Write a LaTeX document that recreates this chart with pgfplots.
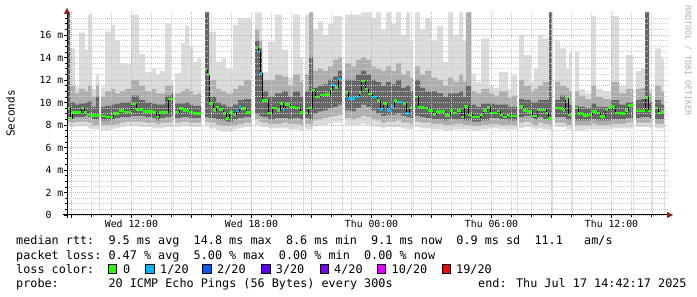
\documentclass[border=0pt]{standalone}
\usepackage{pgfplots}
\pgfplotsset{compat=1.18}
\usepackage{pgfplotstable}
\usepackage{fontspec}
\newfontfamily\mono{DejaVu Sans Mono}
\newcommand\legfont{\mono\fontsize{11.8bp}{14bp}\selectfont}
\newcommand\tickfont{\mono\fontsize{9.8bp}{11bp}\selectfont}
\definecolor{sm1}{HTML}{DCDCDC}
\definecolor{sm2}{HTML}{AEAEAE}
\definecolor{sm3}{HTML}{666666}
\definecolor{mgrid}{HTML}{E6A4A4}
\definecolor{ngrid}{HTML}{CCCCCC}
\definecolor{l0}{HTML}{26FF00}
\definecolor{l1}{HTML}{00B8FF}
\definecolor{l2}{HTML}{0059FF}
\definecolor{l3}{HTML}{5E00FF}
\definecolor{l4}{HTML}{7E00FF}
\definecolor{l10}{HTML}{DD00FF}
\definecolor{l19}{HTML}{FF0000}
\definecolor{arrowred}{HTML}{8B1A1A}
\definecolor{wm}{HTML}{B0B0B0}

% smoke: x (start of interval, px), t1 light top, t2 mid top, t3 dark top, b3 dark bottom, b2 mid bottom, b1 light bottom (ms)
\pgfplotstableread{
x t1 t2 t3 b3 b2 b1
67 18 18 18 8.7 8.3 7.9
70 14.8 11.5 10.0 8.6 8.2 7.8
75 11.4 10.8 9.8 8.7 8.3 7.9
79 16.2 11.2 9.9 8.7 8.3 7.9
85 14.7 11.0 10.0 8.8 8.3 7.9
88 17.8 11.5 10.1 8.7 8.2 7.7
92 11.2 10.5 9.6 8.5 8.0 7.6
96 12.4 11.5 10.5 8.5 8.0 7.6
99 0 0 0 0 0 0
101 11.4 10.5 9.6 8.4 8.0 7.5
105 16.3 11.0 9.7 8.4 8.0 7.5
111 16.9 11.2 9.8 8.5 8.0 7.6
115 15.5 10.8 9.9 8.6 8.1 7.7
120 13.5 11.0 10.0 8.7 8.2 7.8
125 13.4 11.2 10.0 8.7 8.3 7.9
131 17.8 12.0 10.6 8.8 8.3 7.9
139 14.3 11.5 10.2 8.8 8.3 7.8
145 12.7 11.0 10.0 8.7 8.2 7.8
152 13.0 11.2 9.9 8.6 8.2 7.7
156 12.5 10.8 9.8 8.4 8.1 7.7
160 12.8 10.8 9.8 8.6 8.2 7.7
165 17.0 11.5 10.6 8.7 8.2 7.8
171 12.0 11.5 10.8 8.8 8.3 7.8
173 0 0 0 0 0 0
175 12.6 10.8 9.9 8.6 8.2 7.8
181 15.3 11.0 9.9 8.7 8.3 7.9
185 16.8 11.2 10.0 8.7 8.3 7.9
189 15.0 11.0 9.8 8.6 8.2 7.8
193 13.6 10.7 9.7 8.6 8.2 7.8
197 13.9 10.8 9.7 8.6 8.2 7.8
201 0 0 0 0 0 0
205 18 18 18 8.7 8.3 7.9
209 16.3 12.0 10.5 8.6 8.2 7.7
216 13.6 11.2 10.0 8.5 8.0 7.5
221 13.9 11.0 9.8 8.4 7.9 7.4
226 13.0 10.8 9.6 8.3 7.9 7.4
233 16.9 11.2 9.8 8.5 8.0 7.6
238 17.5 11.5 10.2 8.6 8.1 7.7
244 17.5 12.0 10.3 8.7 8.2 7.8
251 0 0 0 0 0 0
255 18 16.5 15.5 9.0 8.5 8.0
259 18 15.5 14.8 8.8 8.3 7.9
262 12.7 12.0 11.0 8.7 8.2 7.8
268 15.4 12.0 10.5 8.5 8.1 7.7
275 17.8 12.5 10.8 8.6 8.1 7.7
282 14.7 12.3 11.0 8.6 8.2 7.7
288 12.2 11.5 10.5 8.5 8.1 7.6
293 17.8 12.5 11.0 8.6 8.1 7.6
300 14.0 11.8 10.5 8.5 8.0 7.5
303 0 0 0 0 0 0
305 17.8 12.5 11.0 8.6 8.1 7.6
309 18 18 14.0 8.5 8.1 7.6
313 16.5 12.8 11.3 9.0 8.4 7.9
318 17.2 13.0 11.5 9.2 8.5 8.0
323 16.0 12.8 11.6 9.3 8.6 8.0
328 17.0 13.2 12.0 9.5 8.7 8.1
333 17.7 13.8 12.3 9.6 8.8 8.2
338 17.7 14.0 12.8 9.8 8.9 8.2
342 0 0 0 0 0 0
345 17.8 13.5 12.0 9.3 8.6 8.0
351 17.8 13.2 12.0 9.2 8.5 8.0
356 17.8 13.8 12.5 9.5 8.6 8.0
361 18 14.0 12.8 9.8 8.8 8.1
366 18 13.8 12.5 9.6 8.7 8.0
371 17.5 13.2 12.0 9.3 8.5 7.9
376 18 13.0 11.8 9.0 8.4 7.8
381 16.5 12.8 11.5 8.8 8.2 7.7
386 18 13.2 11.8 8.9 8.3 7.8
391 17.0 12.8 11.6 8.9 8.3 7.8
396 18 13.5 12.0 9.0 8.4 7.8
401 16.0 12.5 11.3 8.8 8.2 7.7
406 18 12.8 11.5 8.7 8.2 7.6
410 15.5 12.2 11.0 8.6 8.1 7.6
413 0 0 0 0 0 0
415 18 13.2 12.0 8.8 8.3 7.8
420 16.5 12.5 11.3 8.7 8.2 7.7
425 17.5 12.8 11.0 8.6 8.2 7.7
431 15.5 12.2 11.0 8.5 8.1 7.6
437 16.8 12.0 10.8 8.5 8.1 7.6
443 13.6 11.5 10.5 8.4 8.0 7.5
448 18 12.2 10.8 8.5 8.0 7.5
453 16.0 11.8 10.8 8.5 8.1 7.6
459 18 12.5 11.0 8.5 8.1 7.6
463 15.5 11.8 10.5 8.4 8.0 7.6
466 18 18 11.5 8.4 8.0 7.6
471 12.5 11.0 9.8 8.3 7.9 7.5
476 11.8 10.8 9.6 8.3 7.9 7.5
481 15.7 11.2 9.9 8.4 8.0 7.6
489 11.5 10.8 9.9 8.6 8.1 7.7
494 11.3 10.6 9.8 8.6 8.1 7.7
499 12.7 11.0 9.8 8.5 8.0 7.6
508 11.2 10.4 9.6 8.4 8.0 7.6
511 12.4 10.6 9.6 8.4 8.0 7.6
517 0 0 0 0 0 0
519 16.0 12.0 10.3 8.7 8.2 7.7
524 14.2 11.5 10.2 8.8 8.3 7.8
531 11.8 11.0 10.0 8.6 8.1 7.7
534 13.0 11.2 10.0 8.5 8.0 7.6
538 16.0 11.5 10.2 8.7 8.2 7.7
543 15.7 11.8 10.2 8.5 8.1 7.6
549 18 18 18 8.5 8.0 7.5
552 0 0 0 0 0 0
555 15.5 11.8 10.2 8.7 8.2 7.8
560 14.8 11.5 10.6 8.7 8.2 7.8
566 13.0 11.3 10.0 8.5 8.0 7.6
569 14.5 11.0 9.8 8.4 8.0 7.6
572 0 0 0 0 0 0
575 14.5 11.0 9.7 8.4 8.0 7.5
579 11.2 10.6 9.6 8.4 8.0 7.5
585 10.8 10.3 9.5 8.4 8.0 7.6
591 17.7 11.5 9.9 8.5 8.1 7.6
596 11.2 10.5 9.6 8.4 8.0 7.6
603 11.0 10.3 9.6 8.4 8.0 7.6
611 17.7 11.8 10.2 8.5 8.1 7.7
619 11.5 10.8 9.8 8.5 8.1 7.7
626 14.2 11.2 10.0 8.6 8.2 7.7
633 0 0 0 0 0 0
636 12.8 11.2 10.2 8.6 8.2 7.8
641 13.0 11.3 10.3 8.7 8.2 7.8
645 18 18 18 8.7 8.2 7.8
649 11.2 10.8 10.0 8.6 8.2 7.7
652 0 0 0 0 0 0
655 14.8 11.5 10.2 8.5 8.1 7.7
661 13.9 11.0 9.8 8.5 8.1 7.7
664 0 0 0 0 0 0
}\smoke

% median rtt steps: x (start, px), y (ms)
\pgfplotstableread{
x y
67 9.45
70 8.6
72 9.1
81 9.5
84 9.15
87 8.9
91 8.85
99 8.85
99 nan
101 8.8
106 8.7
113 9.0
119 9.3
124 9.15
131 9.85
136 9.4
143 9.2
153 9.1
156 8.7
159 9.1
166 9.15
168 10.3
173 10.3
173 nan
175 9.15
179 9.45
183 9.3
189 9.15
193 9.0
201 9.0
201 nan
205 12.9
207 12.5
209 9.9
213 9.3
216 9.6
219 9.4
223 9.0
226 8.6
229 9.1
233 8.9
236 9.25
239 9.65
241 9.45
246 9.1
251 9.1
251 nan
255 14.85
258 14.5
260 12.6
262 10.2
268 9.05
272 9.5
277 9.3
280 9.9
283 9.35
285 9.8
290 9.6
295 9.5
300 9.1
303 9.1
303 nan
305 9.05
308 9.5
312 11.1
315 10.5
320 10.65
325 10.7
330 11.2
332 11.55
335 11.35
338 12.1
342 12.1
342 nan
345 10.9
348 10.35
355 10.5
359 10.9
361 11.9
365 11.2
368 10.75
372 10.5
377 10.2
380 9.4
383 9.9
387 9.3
391 9.65
394 10.2
397 10.05
403 9.9
406 9.0
409 9.5
413 9.5
413 nan
415 10.5
418 9.6
421 9.55
424 9.5
428 9.3
433 8.95
436 9.2
445 8.85
450 9.3
453 9.05
457 9.3
461 8.7
464 9.65
468 8.9
472 8.7
480 8.9
483 9.3
487 9.55
490 9.05
497 9.25
500 8.9
503 8.7
507 8.9
510 8.8
517 8.8
517 nan
519 9.65
523 9.3
527 9.2
532 8.8
537 9.35
546 9.05
548 8.6
552 8.6
552 nan
555 9.5
560 9.45
563 9.3
565 10.35
568 8.9
572 8.9
572 nan
575 9.5
578 9.0
583 8.85
588 8.9
592 9.2
597 9.05
600 8.75
605 9.35
608 9.5
612 9.65
615 9.05
620 9.0
625 9.3
628 9.75
633 9.75
633 nan
636 9.25
643 9.3
645 10.45
648 9.25
652 9.25
652 nan
655 9.5
658 9.05
661 9.2
664 9.2
}\med

\newcommand\legtxt[3]{\node[anchor=base west, inner sep=0pt, font=\legfont] at ({16bp+#1*7.1bp},#2) {#3};}
\newcommand\legbox[3]{\draw[fill=#3, draw=black, line width=0.8bp] (#1,#2) rectangle ++(8.5bp,8.5bp);}

\begin{document}
\begin{tikzpicture}
\useasboundingbox (0bp,0bp) rectangle (697bp,297bp);
\begin{axis}[
  at={(67bp,82bp)}, anchor=south west,
  scale only axis, width=601bp, height=202.5bp,
  xmin=67, xmax=668, ymin=0, ymax=18,
  axis on top,
  axis line style={draw=none},
  tick pos=left, tick align=outside,
  major tick length=3bp, minor tick length=2bp,
  every tick/.style={black, line width=0.5bp},
  xtick={71.5,131.5,191.5,251.5,311.5,371.5,431.5,491.5,551.5,611.5},
  xticklabels={,Wed 12:00,,Wed 18:00,,Thu 00:00,,Thu 06:00,,Thu 12:00},
  minor xtick={91.5,111.5,151.5,171.5,211.5,231.5,271.5,291.5,331.5,351.5,391.5,411.5,451.5,471.5,511.5,531.5,571.5,591.5,631.5,651.5},
  ytick={0,2,4,6,8,10,12,14,16},
  yticklabels={0\phantom{\ m},2 m,4 m,6 m,8 m,10 m,12 m,14 m,16 m},
  minor ytick={0.5,1,1.5,2.5,3,3.5,4.5,5,5.5,6.5,7,7.5,8.5,9,9.5,10.5,11,11.5,12.5,13,13.5,14.5,15,15.5,16.5,17,17.5},
  xticklabel style={font=\tickfont, inner sep=0pt, anchor=north, yshift=-2bp},
  yticklabel style={font=\tickfont, inner sep=0pt, anchor=east, xshift=-0.5bp},
  grid=both,
  major grid style={mgrid, line width=0.8bp, dash pattern=on 1bp off 1bp},
  minor grid style={ngrid, line width=0.8bp, dash pattern=on 1bp off 1bp},
  clip=true,
]
\addplot[const plot mark left, fill=sm1, draw=none, mark=none] table[x=x, y=t1] {\smoke} \closedcycle;
\addplot[const plot mark left, fill=sm2, draw=none, mark=none] table[x=x, y=t2] {\smoke} \closedcycle;
\addplot[const plot mark left, fill=sm3, draw=none, mark=none] table[x=x, y=t3] {\smoke} \closedcycle;
\addplot[const plot mark left, fill=sm2, draw=none, mark=none] table[x=x, y=b3] {\smoke} \closedcycle;
\addplot[const plot mark left, fill=sm1, draw=none, mark=none] table[x=x, y=b2] {\smoke} \closedcycle;
\addplot[const plot mark left, fill=white, draw=none, mark=none] table[x=x, y=b1] {\smoke} \closedcycle;
\addplot[black, line width=0.8bp, const plot mark left, unbounded coords=jump, mark=none] table[x=x, y=y] {\med};
\addplot[l0, line width=2.6bp, jump mark left, unbounded coords=jump, mark=none] table[x=x, y=y] {\med};
\addplot[l1, line width=2.6bp, unbounded coords=jump, mark=none] coordinates {
 (236,9.25)(239,9.25)(239,nan)(239,9.65)(241,9.65)(241,nan)
 (258,14.5)(260,14.5)(260,nan)(260,12.6)(262,12.6)(262,nan)
 (283,9.35)(285,9.35)(285,nan)(332,11.55)(335,11.55)(335,nan)
 (338,12.1)(342,12.1)(342,nan)(348,10.35)(355,10.35)(355,nan)
 (355,10.5)(359,10.5)(359,nan)(372,10.5)(377,10.5)(377,nan)
 (380,9.4)(383,9.4)(383,nan)(387,9.3)(391,9.3)(391,nan)
 (391,9.65)(394,9.65)(394,nan)(397,10.05)(403,10.05)(403,nan)
 (406,9.0)(409,9.0)};
\end{axis}
% axis lines with arrowheads
\draw[black, line width=1bp] (63bp,82bp) -- (668bp,82bp);
\fill[arrowred] (667bp,79bp) -- (673bp,82bp) -- (667bp,85bp) -- cycle;
\draw[black, line width=1bp] (67bp,79bp) -- (67bp,284bp);
\fill[arrowred] (64bp,283bp) -- (67bp,289bp) -- (70bp,283bp) -- cycle;
% y label and watermark
\node[rotate=90, font=\mono\fontsize{11bp}{13bp}\selectfont, inner sep=0pt] at (10.5bp,183.5bp) {Seconds};
\node[rotate=-90, anchor=west, font=\mono\fontsize{8.3bp}{10bp}\selectfont, text=wm, inner sep=0pt] at (688bp,292bp) {RRDTOOL / TOBI OETIKER};
% legend
\legtxt{0}{52bp}{median rtt:}
\legtxt{13}{52bp}{9.5 ms avg}
\legtxt{25}{52bp}{14.8 ms max}
\legtxt{38}{52bp}{8.6 ms min}
\legtxt{50}{52bp}{9.1 ms now}
\legtxt{62}{52bp}{0.9 ms sd}
\legtxt{73}{52bp}{11.1}
\legtxt{80}{52bp}{am/s}
\legtxt{0}{37.5bp}{packet loss:}
\legtxt{13}{37.5bp}{0.47 \% avg}
\legtxt{25}{37.5bp}{5.00 \% max}
\legtxt{37}{37.5bp}{0.00 \% min}
\legtxt{49}{37.5bp}{0.00 \% now}
\legtxt{0}{24bp}{loss color:}
\legbox{108.3bp}{24bp}{l0}
\node[anchor=base west, inner sep=0pt, font=\legfont] at (123bp,24bp) {0};
\legbox{145.7bp}{24bp}{l1}
\node[anchor=base west, inner sep=0pt, font=\legfont] at (160bp,24bp) {1/20};
\legbox{202.7bp}{24bp}{l2}
\node[anchor=base west, inner sep=0pt, font=\legfont] at (217bp,24bp) {2/20};
\legbox{261.7bp}{24bp}{l3}
\node[anchor=base west, inner sep=0pt, font=\legfont] at (275.7bp,24bp) {3/20};
\legbox{320bp}{24bp}{l4}
\node[anchor=base west, inner sep=0pt, font=\legfont] at (334bp,24bp) {4/20};
\legbox{377bp}{24bp}{l10}
\node[anchor=base west, inner sep=0pt, font=\legfont] at (391.5bp,24bp) {10/20};
\legbox{442bp}{24bp}{l19}
\node[anchor=base west, inner sep=0pt, font=\legfont] at (456bp,24bp) {19/20};
\legtxt{0}{10bp}{probe:}
\legtxt{13}{10bp}{20 ICMP Echo Pings (56 Bytes) every 300s}
\node[anchor=base west, inner sep=0pt, font=\legfont] at (478bp,10bp) {end: Thu Jul 17 14:42:17 2025};
\end{tikzpicture}
\end{document}
